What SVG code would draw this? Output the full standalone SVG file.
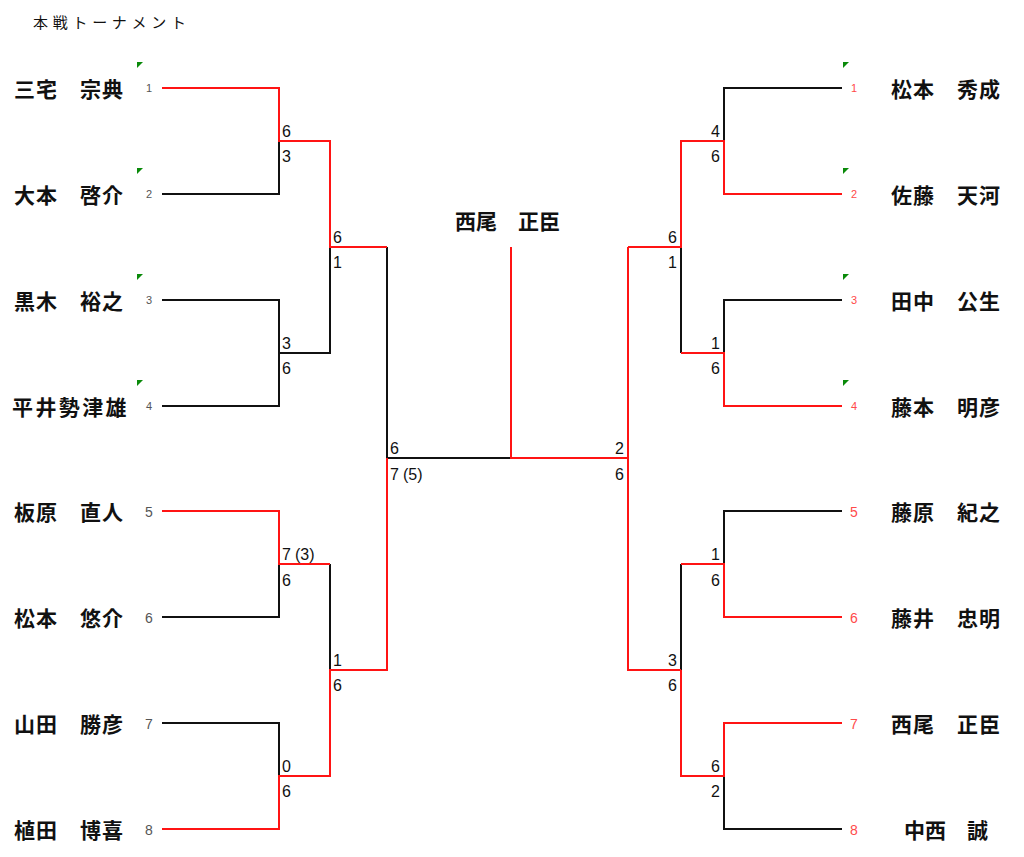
<svg xmlns="http://www.w3.org/2000/svg" width="1024" height="857" viewBox="0 0 1024 857">
<style>
.name{font-family:"Noto Sans CJK JP","Noto Sans CJK SC",sans-serif;font-weight:bold;font-size:21px;letter-spacing:1px;fill:#111}
.title{font-family:"Noto Sans CJK JP",sans-serif;font-size:15px;fill:#111}
.seedS{font-family:"Liberation Sans",sans-serif;font-size:11px;text-anchor:middle}
.seedL{font-family:"Liberation Sans",sans-serif;font-size:14px;text-anchor:middle}
.gl{fill:#555555}
.rd{fill:#ff4a4a}
.sc{font-family:"Liberation Sans",sans-serif;font-size:16px;fill:#111}
.scr{font-family:"Liberation Sans",sans-serif;font-size:16px;fill:#111;text-anchor:end}
.k{stroke:#111;stroke-width:2;fill:none}
.r{stroke:#ff1414;stroke-width:2;fill:none}
.tri{fill:#0a8a0a}
</style>
<rect width="1024" height="857" fill="#fff"/>
<text class="title" x="33" y="28" textLength="153" lengthAdjust="spacing">本戦トーナメント</text>

<g id="connectors">
<path class="k" d="M162 194H279V141M162 300H279V406H162M279 353H330V247M387 247V458H511M162 617H279V564M330 564V670M162 723H279V776"/>
<path class="r" d="M162 88H279V141H330V247H387M387 458V670H330V776H279V829H162M162 511H279V564H330M279 776H330"/>
<path class="r" d="M511 247V458H628"/>
<path class="k" d="M842 88H724V141M842 300H724V353M681 247V353M842 511H724V564M681 564V670M842 829H724V776"/>
<path class="r" d="M628 247V670H681M628 247H681V141H724V194H842M681 353H724V406H842M681 564H724V617H842M681 670V776H724V723H842"/>
</g>

<g id="scores">
<text class="sc" x="282" y="137">6</text><text class="sc" x="282" y="162">3</text>
<text class="sc" x="282" y="349">3</text><text class="sc" x="282" y="374">6</text>
<text class="sc" x="282" y="560">7<tspan dx="4">(3)</tspan></text><text class="sc" x="282" y="586">6</text>
<text class="sc" x="282" y="772">0</text><text class="sc" x="282" y="797">6</text>
<text class="sc" x="333" y="243">6</text><text class="sc" x="333" y="268">1</text>
<text class="sc" x="333" y="666">1</text><text class="sc" x="333" y="691">6</text>
<text class="sc" x="390" y="454">6</text><text class="sc" x="390" y="480">7<tspan dx="4">(5)</tspan></text>
<text class="scr" x="624" y="454">2</text><text class="scr" x="624" y="480">6</text>
<text class="scr" x="677" y="243">6</text><text class="scr" x="677" y="268">1</text>
<text class="scr" x="677" y="666">3</text><text class="scr" x="677" y="691">6</text>
<text class="scr" x="720" y="137">4</text><text class="scr" x="720" y="162">6</text>
<text class="scr" x="720" y="349">1</text><text class="scr" x="720" y="374">6</text>
<text class="scr" x="720" y="560">1</text><text class="scr" x="720" y="586">6</text>
<text class="scr" x="720" y="772">6</text><text class="scr" x="720" y="797">2</text>
</g>

<g id="champion"><text class="name" x="455" y="229" style="letter-spacing:0">西尾　正臣</text></g>

<g id="L1"><path class="tri" d="M137 62H143L137 68Z"/><text class="seedS gl" x="149" y="92">1</text><text class="name" x="14" y="97">三宅　宗典</text></g>
<g id="L2"><path class="tri" d="M137 168H143L137 174Z"/><text class="seedS gl" x="149" y="198">2</text><text class="name" x="14" y="203">大本　啓介</text></g>
<g id="L3"><path class="tri" d="M137 274H143L137 280Z"/><text class="seedS gl" x="149" y="304">3</text><text class="name" x="14" y="309">黒木　裕之</text></g>
<g id="L4"><path class="tri" d="M137 380H143L137 386Z"/><text class="seedS gl" x="149" y="410">4</text><text class="name" x="12" y="415" style="letter-spacing:2.4px">平井勢津雄</text></g>
<g id="L5"><text class="seedL gl" x="149" y="517">5</text><text class="name" x="14" y="520">板原　直人</text></g>
<g id="L6"><text class="seedL gl" x="149" y="623">6</text><text class="name" x="14" y="626">松本　悠介</text></g>
<g id="L7"><text class="seedL gl" x="149" y="729">7</text><text class="name" x="14" y="732">山田　勝彦</text></g>
<g id="L8"><text class="seedL gl" x="149" y="835">8</text><text class="name" x="14" y="838">植田　博喜</text></g>

<g id="R1"><path class="tri" d="M843 62H849L843 68Z"/><text class="seedS rd" x="854" y="92">1</text><text class="name" x="891" y="97">松本　秀成</text></g>
<g id="R2"><path class="tri" d="M843 168H849L843 174Z"/><text class="seedS rd" x="854" y="198">2</text><text class="name" x="891" y="203">佐藤　天河</text></g>
<g id="R3"><path class="tri" d="M843 274H849L843 280Z"/><text class="seedS rd" x="854" y="304">3</text><text class="name" x="891" y="309">田中　公生</text></g>
<g id="R4"><path class="tri" d="M843 380H849L843 386Z"/><text class="seedS rd" x="854" y="410">4</text><text class="name" x="891" y="415">藤本　明彦</text></g>
<g id="R5"><text class="seedL rd" x="854" y="517">5</text><text class="name" x="891" y="520">藤原　紀之</text></g>
<g id="R6"><text class="seedL rd" x="854" y="623">6</text><text class="name" x="891" y="626">藤井　忠明</text></g>
<g id="R7"><text class="seedL rd" x="854" y="729">7</text><text class="name" x="891" y="732">西尾　正臣</text></g>
<g id="R8"><text class="seedL rd" x="854" y="835">8</text><text class="name" x="904" y="838" style="letter-spacing:0">中西　誠</text></g>
</svg>
